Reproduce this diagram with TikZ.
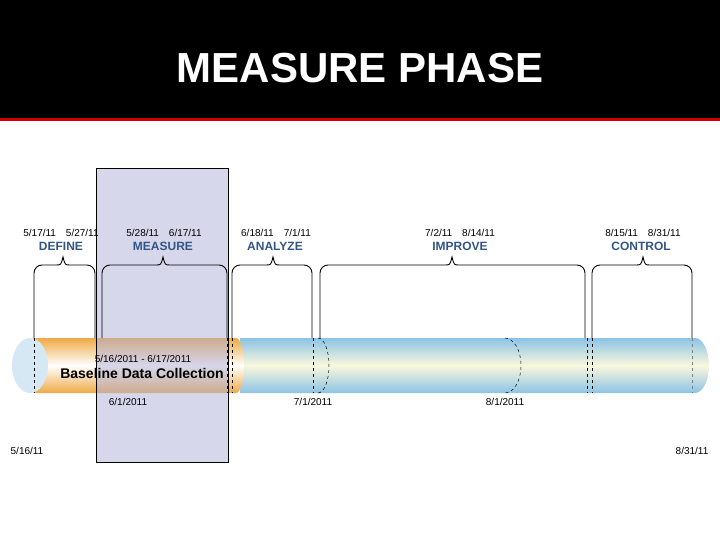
\documentclass[tikz,border=0pt]{standalone}
\usepackage{fontspec}
\setmainfont{Liberation Sans}
\definecolor{cylblue}{RGB}{140,195,230}
\definecolor{cylcream}{RGB}{250,248,220}
\definecolor{cylorange}{RGB}{238,170,70}
\definecolor{endblue}{RGB}{215,232,245}
\definecolor{lav}{RGB}{175,175,215}
\definecolor{phaseblue}{RGB}{50,85,135}
\begin{document}
\begin{tikzpicture}[x=1pt,y=-1pt,
  date/.style={font=\fontsize{10}{11}\selectfont,inner sep=0pt},
  phase/.style={font=\bfseries\fontsize{12}{13}\selectfont,text=phaseblue,inner sep=0pt},
  brc/.style={draw,line width=0.9pt},
  dsh/.style={draw,dashed,line width=0.5pt}]
\useasboundingbox (0,0) rectangle (720,540);
\fill[black] (0,0) rectangle (720,118);
\fill[red!80!black] (0,118) rectangle (720,121);
\node[text=white,font=\bfseries\fontsize{42}{48}\selectfont] (title) at (360,68) {MEASURE PHASE};
% cylinder
\begin{scope}
\clip (240,338) -- (695,338) arc[start angle=-90,end angle=90,x radius=14,y radius=27.5] -- (240,393) -- cycle;
\shade[top color=cylblue,bottom color=cylblue,middle color=cylcream] (230,338) rectangle (712,393);
\end{scope}
\begin{scope}
\clip (33,338) -- (236,338) arc[start angle=-90,end angle=90,x radius=8,y radius=27.5] -- (33,393) -- cycle;
\shade[top color=cylorange,bottom color=cylorange,middle color=white] (30,338) rectangle (246,393);
\end{scope}
\fill[endblue] (30,365.5) ellipse[x radius=18,y radius=27.5];
\fill[lav,opacity=0.5] (96,168) rectangle (228,462);
\draw (96,168) rectangle (228,462);
% dashed
\foreach \x in {34,96,227,232,313,587,592} \draw[dsh] (\x,338) -- (\x,393);
\draw[dsh,gray] (692,338) -- (692,393);
\draw[dsh] (318,338) arc[start angle=-90,end angle=90,x radius=11,y radius=27.5];
\draw[dsh] (505,338) arc[start angle=-90,end angle=90,x radius=16,y radius=27.5];
% braces
\foreach \a/\b/\t in {34/95/63,102/227/163,232/312/273,320/585/452,592/692/643}{
  \draw[brc] (\a,338) -- (\a,273) arc[start angle=180,end angle=270,radius=8] -- (\t-7,265)
    .. controls (\t-2,265) .. (\t,257) .. controls (\t+2,265) .. (\t+7,265)
    -- (\b-8,265) arc[start angle=270,end angle=360,radius=8] -- (\b,338);
}
\node[date] (d1) at (61,233) {5/17/11\quad 5/27/11};
\node[phase] (p1) at (61,246) {DEFINE};
\node[date] (d2) at (164,233) {5/28/11\quad 6/17/11};
\node[phase] (p2) at (163,246) {MEASURE};
\node[date] (d3) at (276,233) {6/18/11\quad 7/1/11};
\node[phase] (p3) at (275,246) {ANALYZE};
\node[date] (d4) at (460,233) {7/2/11\quad 8/14/11};
\node[phase] (p4) at (460,246) {IMPROVE};
\node[date] (d5) at (643,233) {8/15/11\quad 8/31/11};
\node[phase] (p5) at (641,246) {CONTROL};
\node[date] (r) at (143,359) {5/16/2011 - 6/17/2011};
\node[font=\bfseries\fontsize{14}{15}\selectfont,inner sep=0pt] (bdc) at (142,373) {Baseline Data Collection};
\node[date] (m1) at (128,402) {6/1/2011};
\node[date] (m2) at (313,402) {7/1/2011};
\node[date] (m3) at (505,402) {8/1/2011};
\node[date] (s) at (27,451) {5/16/11};
\node[date] (e) at (692,451) {8/31/11};
\end{tikzpicture}
\end{document}
